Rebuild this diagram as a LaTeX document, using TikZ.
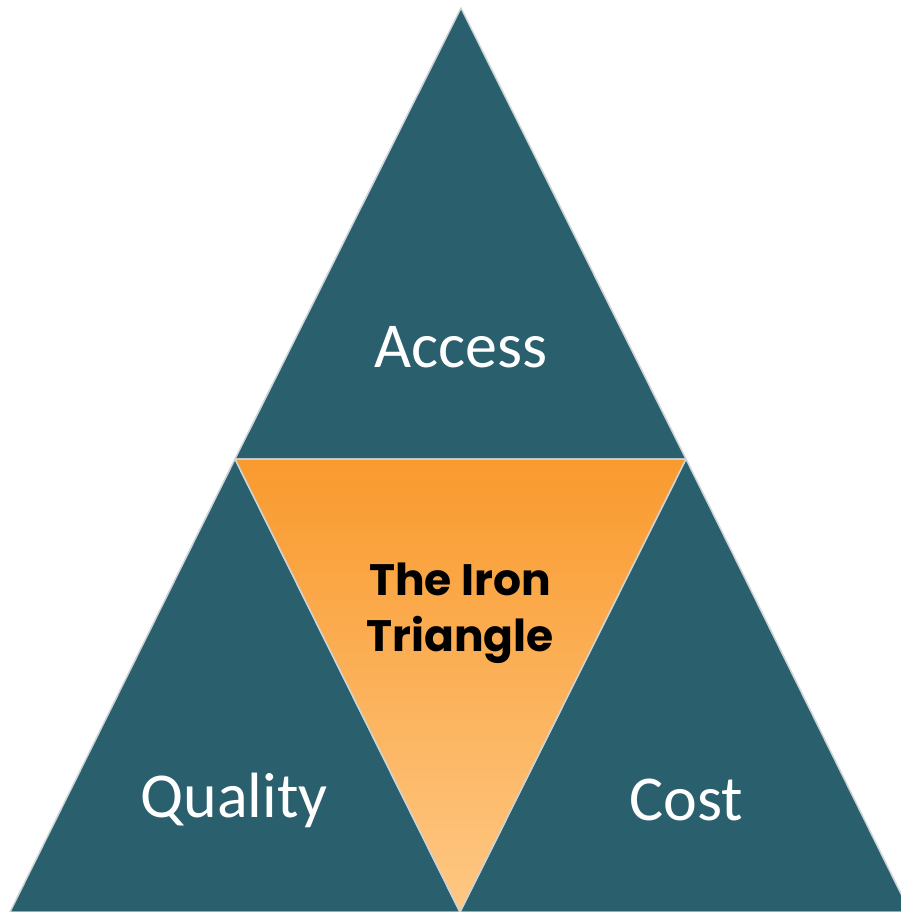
\documentclass[tikz,border=0pt]{standalone}
\usepackage{fontspec}
\setmainfont{Carlito}
\newfontfamily\ironfont{Poppins}
\definecolor{tealside}{RGB}{42,95,110}
\definecolor{orangetop}{RGB}{249,154,46}
\definecolor{orangebot}{RGB}{254,200,132}
\definecolor{edgegray}{RGB}{205,212,214}
\tikzset{
  side/.style={fill=tealside, draw=edgegray, line width=1.5pt, line join=round},
  sidelabel/.style={text=white, font=\fontsize{64}{70}\selectfont},
}
\begin{document}
\begin{tikzpicture}[x=1pt,y=1pt,yscale=-1,xscale=1]
\useasboundingbox (0,0) rectangle (901,912);

%Shape: Triangle top
\draw [side] (461,8) -- (686,459) -- (235,459) -- cycle ;
%Shape: Triangle left
\draw [side] (235,459) -- (460,912) -- (10,912) -- cycle ;
%Shape: Triangle right
\draw [side] (686,459) -- (910,912) -- (460,912) -- cycle ;
%Shape: Triangle middle
\draw [top color=orangetop, bottom color=orangebot, draw=edgegray, line width=1.5pt, line join=round] (235,459) -- (686,459) -- (460,912) -- cycle ;

% Text Node
\node [sidelabel] (access) at (461,347) {Access};
% Text Node
\node [sidelabel] (quality) at (234,800) {Quality};
% Text Node
\node [sidelabel] (cost) at (686,800) {Cost};
% Text Node
\node [align=center, font=\ironfont\bfseries\fontsize{44}{56}\selectfont] (iron) at (460,613) {The Iron\\Triangle};

\end{tikzpicture}
\end{document}
